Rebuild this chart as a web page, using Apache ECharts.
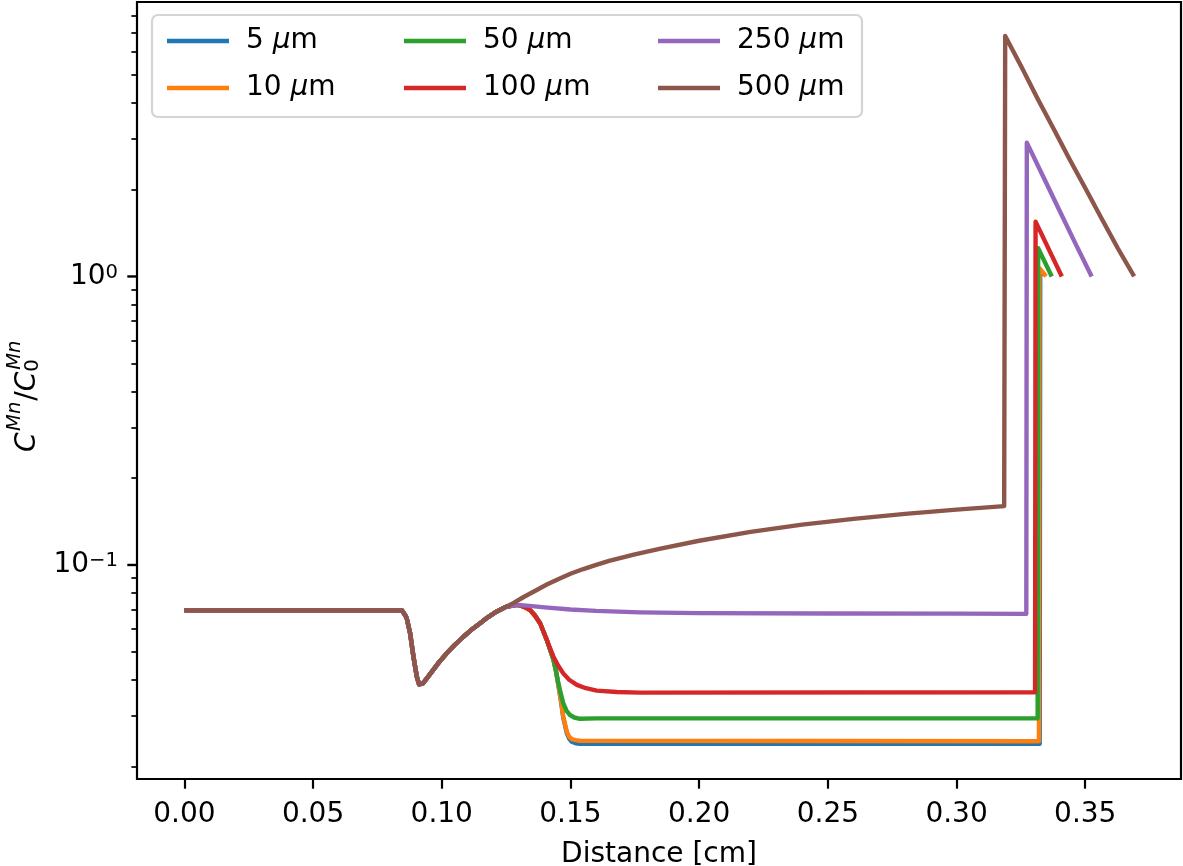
<!DOCTYPE html>
<html><head><meta charset="utf-8">
<script src="https://cdn.jsdelivr.net/npm/echarts@6/dist/echarts.min.js"></script>
<style>html,body{margin:0;padding:0;background:#fff}#c{width:1183px;height:866px}</style>
</head><body><div id="c"></div>
<script>
const seriesNames = ['5 μm', '10 μm', '50 μm', '100 μm', '250 μm', '500 μm'];
const seriesColors = ['#1f77b4', '#ff7f0e', '#2ca02c', '#d62728', '#9467bd', '#8c564b'];
const xTicks = [0, 0.05, 0.10, 0.15, 0.20, 0.25, 0.30, 0.35];
const yMajorTicks = [0.1, 1];
const yMinorTicks = [0.02, 0.03, 0.04, 0.05, 0.06, 0.07, 0.08, 0.09, 0.2, 0.3, 0.4, 0.5, 0.6, 0.7, 0.8, 0.9, 2, 3, 4, 5, 6, 7, 8];
const X_MIN = -0.0184, X_MAX = 0.3872, Y_MIN = 0.01812, Y_MAX = 8.94;

// shared start of every profile
const commonPart = [[0, 0.0696], [0.0845, 0.0696], [0.0851, 0.0688], [0.0858, 0.0670], [0.0864, 0.0653], [0.0877, 0.0580], [0.0890, 0.0481], [0.0903, 0.0410], [0.0912, 0.0386], [0.0918, 0.0383], [0.0926, 0.0388], [0.0945, 0.0408], [0.0967, 0.0433], [0.0992, 0.0463], [0.1019, 0.0494], [0.1050, 0.0528], [0.1084, 0.0564], [0.1115, 0.0596], [0.1149, 0.0628], [0.1180, 0.0660], [0.1214, 0.0690]];
const tail5 = [[0.1250, 0.0716], [0.1291, 0.0727], [0.1304, 0.0724], [0.1325, 0.0713], [0.1343, 0.0698], [0.1362, 0.0668], [0.1382, 0.0628], [0.1395, 0.0588], [0.1408, 0.0550], [0.1421, 0.0508], [0.1434, 0.0469], [0.1444, 0.0428], [0.1453, 0.0383], [0.1463, 0.0338], [0.1472, 0.0296], [0.1486, 0.0261], [0.1495, 0.0250], [0.1505, 0.0244], [0.1520, 0.0241], [0.1537, 0.0240], [0.3323, 0.0240], [0.3325, 1.02], [0.3333, 1.0]];
const tail10 = [[0.1250, 0.0716], [0.1291, 0.0727], [0.1304, 0.0724], [0.1325, 0.0713], [0.1343, 0.0698], [0.1362, 0.0668], [0.1382, 0.0628], [0.1395, 0.0588], [0.1408, 0.0550], [0.1421, 0.0508], [0.1434, 0.0469], [0.1444, 0.0428], [0.1453, 0.0385], [0.1463, 0.0340], [0.1472, 0.0298], [0.1486, 0.0264], [0.1495, 0.0254], [0.1505, 0.0249], [0.1520, 0.0247], [0.1537, 0.0246], [0.3320, 0.0245], [0.3322, 1.068], [0.3348, 1.0]];
const tail50 = [[0.1250, 0.0716], [0.1291, 0.0727], [0.1304, 0.0724], [0.1325, 0.0713], [0.1343, 0.0698], [0.1362, 0.0668], [0.1382, 0.0628], [0.1395, 0.0588], [0.1408, 0.0550], [0.1421, 0.0508], [0.1434, 0.0469], [0.1444, 0.0428], [0.1453, 0.0389], [0.1463, 0.0357], [0.1472, 0.0332], [0.1485, 0.0312], [0.1498, 0.0302], [0.1515, 0.0296], [0.1537, 0.0293], [0.1600, 0.0294], [0.3315, 0.0294], [0.3317, 1.252], [0.3370, 1.0]];
const tail100 = [[0.1250, 0.0716], [0.1291, 0.0727], [0.1304, 0.0724], [0.1325, 0.0713], [0.1343, 0.0698], [0.1362, 0.0668], [0.1382, 0.0628], [0.1395, 0.0588], [0.1408, 0.0550], [0.1421, 0.0514], [0.1434, 0.0481], [0.1452, 0.0448], [0.1472, 0.0421], [0.1495, 0.0400], [0.1525, 0.0384], [0.1560, 0.0374], [0.1602, 0.0367], [0.1680, 0.0363], [0.1770, 0.0361], [0.3305, 0.0362], [0.3307, 1.549], [0.3409, 1.0]];
const tail250 = [[0.1250, 0.0716], [0.1291, 0.0727], [0.1330, 0.0723], [0.1400, 0.0713], [0.1500, 0.0701], [0.1600, 0.0693], [0.1770, 0.0685], [0.2000, 0.0681], [0.2500, 0.0679], [0.3000, 0.0678], [0.3271, 0.0677], [0.3273, 2.91], [0.3336, 2.224], [0.3399, 1.700], [0.3462, 1.300], [0.3525, 1.0]];
const tail500 = [[0.1250, 0.0716], [0.1278, 0.0737], [0.1320, 0.0776], [0.1369, 0.0819], [0.1410, 0.0857], [0.1450, 0.0891], [0.1500, 0.0932], [0.1550, 0.0968], [0.1600, 0.1001], [0.1650, 0.1033], [0.1750, 0.1089], [0.1850, 0.1140], [0.2000, 0.1213], [0.2200, 0.1303], [0.2400, 0.1380], [0.2600, 0.1445], [0.2800, 0.1503], [0.3000, 0.1556], [0.3185, 0.1600], [0.3189, 6.82], [0.3252, 5.33], [0.3314, 4.15], [0.3377, 3.25], [0.3439, 2.55], [0.3502, 2.01], [0.3564, 1.585], [0.3627, 1.25], [0.3690, 1.0]];
const tails = [tail5, tail10, tail50, tail100, tail250, tail500];

const FONT = 'DejaVu Sans';
const chart = echarts.init(document.getElementById('c'), null, {renderer: 'canvas'});

const series = seriesNames.map((n, i) => ({
  name: n, type: 'line', symbol: 'none', showSymbol: false,
  data: commonPart.concat(tails[i]),
  lineStyle: {width: 4.4, color: seriesColors[i], join: 'round'},
  itemStyle: {color: seriesColors[i]},
  emphasis: {disabled: true}, z: 2
}));

const legendBase = {
  orient: 'vertical', top: 22, itemWidth: 62, itemHeight: 4.4, itemGap: 19,
  icon: 'rect', z: 10, selectedMode: false,
  formatter: n => n.replace('μ', '{i|μ}'),
  textStyle: {fontSize: 28, lineHeight: 28, fontFamily: FONT, color: '#000', padding: [0, 0, 0, 12],
    rich: {i: {fontSize: 28, lineHeight: 28, fontFamily: FONT, fontStyle: 'italic', color: '#000'}}}
};

const supStyle = {fontSize: 19.6, fontFamily: FONT, color: '#000', verticalAlign: 'top', lineHeight: 18};
const logAxisBase = {
  type: 'log', logBase: 10, min: Y_MIN, max: Y_MAX, position: 'left', offset: 0,
  axisLine: {show: false, onZero: false}, splitLine: {show: false}
};

const option = {
  animation: false,
  backgroundColor: '#fff',
  color: seriesColors,
  grid: {left: 137, top: 2, width: 1044, height: 777, outerBoundsMode: 'none', containLabel: false,
    show: true, borderColor: '#000', borderWidth: 2.2, backgroundColor: 'transparent', z: 3},
  xAxis: {
    type: 'value', min: X_MIN, max: X_MAX,
    axisLine: {show: false, onZero: false},
    splitLine: {show: false},
    axisTick: {show: true, customValues: xTicks, length: 9.7, lineStyle: {color: '#000', width: 2.2}},
    axisLabel: {customValues: xTicks, margin: 22, fontSize: 28, fontFamily: FONT, color: '#000', formatter: v => v.toFixed(2)},
    name: 'Distance [cm]', nameLocation: 'middle', nameGap: 62,
    nameTextStyle: {fontSize: 28, fontFamily: FONT, color: '#000'}
  },
  yAxis: [
    Object.assign({}, logAxisBase, {
      axisTick: {show: false},
      axisLabel: {customValues: yMajorTicks, margin: 19, fontSize: 28, fontFamily: FONT, color: '#000',
        formatter: v => v > 0.5 ? '{b|10}{s|0}' : '{b|10}{s|−1}',
        rich: {b: {fontSize: 28, fontFamily: FONT, color: '#000', lineHeight: 28}, s: supStyle}}
    }),
    Object.assign({}, logAxisBase, {
      axisTick: {show: true, customValues: yMinorTicks, length: 5.6, lineStyle: {color: '#000', width: 1.7}},
      axisLabel: {show: false}
    })
  ],
  legend: [
    Object.assign({}, legendBase, {left: 162, data: ['5 μm', '10 μm']}),
    Object.assign({}, legendBase, {left: 399, data: ['50 μm', '100 μm']}),
    Object.assign({}, legendBase, {left: 653, data: ['250 μm', '500 μm']})
  ],
  graphic: [
    {id: 'legendBox', type: 'rect', z: 9, shape: {x: 152, y: 15, width: 710, height: 102, r: 6},
     style: {fill: '#fff', stroke: '#d4d4d4', lineWidth: 2.2}},
    {id: 'yName', type: 'group', x: 0, y: 390, rotation: Math.PI / 2, z: 10, children: [
      {type: 'text', x: -62, y: 28, style: {text: 'C', fontSize: 28, fontFamily: FONT, fontStyle: 'italic', fill: '#000', verticalAlign: 'middle'}},
      {type: 'text', x: -41, y: 15, style: {text: 'Mn', fontSize: 19.6, fontFamily: FONT, fontStyle: 'italic', fill: '#000', verticalAlign: 'middle'}},
      {type: 'text', x: -10.7, y: 28, style: {text: '/', fontSize: 28, fontFamily: FONT, fill: '#000', verticalAlign: 'middle'}},
      {type: 'text', x: -1.3, y: 28, style: {text: 'C', fontSize: 28, fontFamily: FONT, fontStyle: 'italic', fill: '#000', verticalAlign: 'middle'}},
      {type: 'text', x: 18.2, y: 33, style: {text: '0', fontSize: 19.6, fontFamily: FONT, fill: '#000', verticalAlign: 'middle'}},
      {type: 'text', x: 20.2, y: 15, style: {text: 'Mn', fontSize: 19.6, fontFamily: FONT, fontStyle: 'italic', fill: '#000', verticalAlign: 'middle'}}
    ]}
  ],
  series: series
};
chart.setOption(option);

// major y ticks placed through the axis scale
const tickGraphics = yMajorTicks.map((v, k) => {
  const p = chart.convertToPixel({xAxisIndex: 0, yAxisIndex: 0}, [X_MIN, v]);
  return {id: 'majorTick' + k, type: 'line', z: 50, silent: true,
    shape: {x1: p[0] - 9.7, y1: p[1], x2: p[0] + 1, y2: p[1]},
    style: {stroke: '#000', lineWidth: 2.4}};
});
chart.setOption({graphic: tickGraphics});
</script></body></html>
